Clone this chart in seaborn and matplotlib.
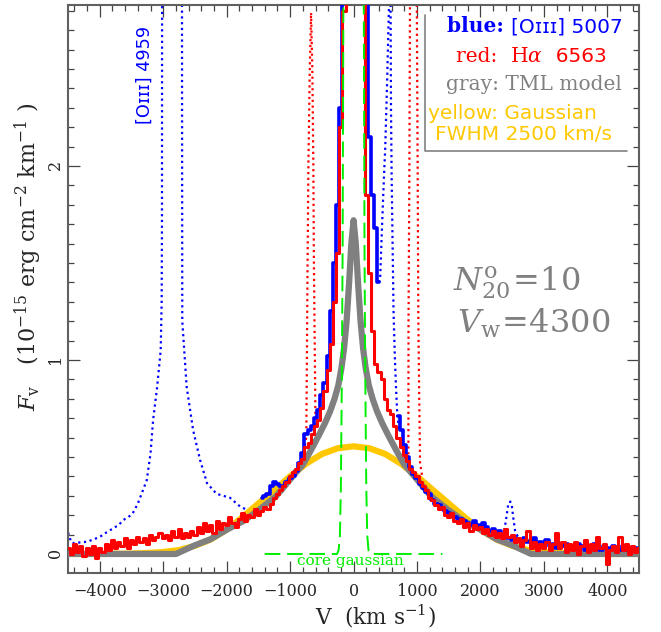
import numpy as np
import seaborn as sns
import matplotlib.pyplot as plt
from matplotlib.ticker import MultipleLocator

# H-alpha spectrum, 50 km/s bins from -4500 to 4500
red_v = np.arange(-4500, 4501, 50)
red_flux = [
    0.03, 0.00, 0.05, 0.01, 0.04, -0.01, 0.03, 0.00, 0.04, -0.02,
    0.03, 0.01, 0.05, 0.02, 0.07, 0.03, 0.06, 0.04, 0.08, 0.03,
    0.07, 0.05, 0.09, 0.06, 0.08, 0.05, 0.10, 0.07, 0.09, 0.11,
    0.08, 0.10, 0.07, 0.12, 0.09, 0.13, 0.08, 0.11, 0.09, 0.12,
    0.10, 0.14, 0.11, 0.16, 0.12, 0.15, 0.11, 0.17, 0.13, 0.16,
    0.15, 0.19, 0.16, 0.14, 0.18, 0.21, 0.17, 0.20, 0.19, 0.23,
    0.20, 0.22, 0.24, 0.23, 0.26, 0.29, 0.31, 0.33, 0.35, 0.37,
    0.40, 0.42, 0.44, 0.47, 0.49, 0.55, 0.57, 0.62, 0.66, 0.69,
    0.75, 0.84, 0.95, 1.08, 1.30, 1.55, 2.20, 2.80, 3.50, 4.00,
    4.20, 4.00, 3.60, 2.90, 1.85, 1.45, 1.15, 0.98, 0.94, 0.90,
    0.80, 0.74, 0.72, 0.66, 0.60, 0.55, 0.51, 0.48, 0.44, 0.42,
    0.40, 0.37, 0.35, 0.33, 0.29, 0.28, 0.25, 0.23, 0.24, 0.20,
    0.19, 0.21, 0.17, 0.16, 0.18, 0.14, 0.16, 0.12, 0.15, 0.13,
    0.14, 0.11, 0.13, 0.10, 0.12, 0.09, 0.11, 0.08, 0.13, 0.09,
    0.10, 0.06, 0.08, 0.04, 0.07, 0.12, 0.03, 0.06, 0.02, 0.05,
    0.03, 0.06, 0.02, 0.05, 0.11, 0.03, 0.06, 0.01, 0.05, 0.02,
    0.06, 0.00, 0.04, 0.07, 0.01, 0.05, 0.02, 0.09, 0.03, 0.05,
    -0.05, 0.02, 0.04, 0.01, 0.09, 0.02, 0.05, 0.00, 0.04, 0.01,
    0.03,
]

# [OIII] 5007 spectrum, two clean pieces
blue_v_core = np.arange(-1450, 401, 50)
blue_core = [
    0.29, 0.30, 0.31, 0.35, 0.37, 0.36, 0.35, 0.35, 0.37, 0.39,
    0.40, 0.43, 0.47, 0.52, 0.62, 0.64, 0.66, 0.70, 0.74, 0.82,
    0.88, 1.02, 1.25, 1.50, 1.80, 2.30, 3.20, 3.80, 4.20, 4.40,
    4.20, 3.80, 3.20, 2.90, 2.15, 1.85, 1.68, 1.40,
]
blue_v_wing = np.arange(700, 4501, 50)
blue_wing = [
    0.71, 0.64, 0.56, 0.50, 0.45, 0.41, 0.39, 0.36, 0.34, 0.32,
    0.31, 0.28, 0.26, 0.25, 0.23, 0.22, 0.21, 0.20, 0.19, 0.18,
    0.18, 0.17, 0.16, 0.15, 0.17, 0.15, 0.14, 0.16, 0.14, 0.12,
    0.13, 0.11, 0.12, 0.10, 0.09, 0.08, 0.07, 0.08, 0.07, 0.07,
    0.08, 0.06, 0.07, 0.08, 0.05, 0.06, 0.05, 0.07, 0.04, 0.05,
    0.03, 0.05, 0.04, 0.05, 0.03, 0.04, 0.03, 0.05, 0.04, 0.02,
    0.04, 0.03, 0.05, 0.03, 0.02, 0.04, 0.03, 0.02, 0.04, 0.03,
    0.02, 0.04, 0.02, 0.03, 0.02, 0.03, 0.02,
]

# raw [OIII] data (dotted): 4959 line, bump near +550, bump near +2450
o4959_v = [-4500, -4450, -4400, -4300, -4200, -4100, -4000, -3900, -3800, -3700,
           -3630, -3550, -3480, -3400, -3330, -3260, -3200, -3160, -3100, -3040,
           -3025, -3020, -3018, -2860, -2705, -2703, -2700, -2630, -2530, -2420,
           -2310, -2160, -1950, -1790, -1680, -1570, -1480, -1370]
o4959 = [0.11, 0.06, 0.055, 0.06, 0.063, 0.075, 0.088, 0.11, 0.13, 0.15,
         0.175, 0.19, 0.21, 0.26, 0.32, 0.38, 0.52, 0.69, 0.85, 1.05,
         1.30, 1.70, 3.00, 8.00, 3.00, 2.15, 1.20, 0.86, 0.64, 0.485,
         0.365, 0.31, 0.29, 0.245, 0.227, 0.23, 0.236, 0.295]
o_bump_v = [400, 418, 450, 480, 500, 530, 560, 575, 590, 600, 615, 630, 650, 670, 690, 720]
o_bump = [1.40, 1.41, 1.70, 1.95, 2.10, 2.45, 2.85, 3.50, 2.30, 1.95, 1.60, 1.25, 1.02, 0.85, 0.71, 0.64]
o_red_v = [2300, 2360, 2400, 2440, 2470, 2494, 2520, 2546, 2600]
o_red = [0.11, 0.09, 0.17, 0.26, 0.27, 0.25, 0.18, 0.12, 0.08]

# raw H-alpha data (dotted): [NII] 6548 and 6583
n6548_v = [-800, -745, -738, -725, -712, -690, -670, -650, -634, -625, -607, -600]
n6548 = [0.50, 0.60, 0.90, 1.50, 2.00, 2.50, 2.79, 2.50, 2.00, 1.50, 0.90, 0.66]
n6583_v = [800, 850, 864, 866, 880, 890, 943, 996, 1010, 1021, 1035, 1048, 1100]
n6583 = [0.50, 0.48, 0.52, 1.20, 2.00, 2.90, 8.00, 2.90, 2.00, 1.20, 0.80, 0.47, 0.36]

# TML model
tml_v = [-4500, -2800, -2500, -2260, -2000, -1735, -1500, -1230, -1100, -960, -800, -670, -550,
         -450, -370, -300, -240, -190, -150, -110, -70, -35, 0, 35, 70, 110, 150, 190, 240, 300, 370,
         450, 550, 670, 800, 960, 1100, 1230, 1500, 1735, 2000, 2260, 2500, 2800, 4500]
tml = [0.0, 0.0, 0.045, 0.075, 0.125, 0.17, 0.225, 0.295, 0.345, 0.40, 0.46, 0.536, 0.61,
       0.675, 0.735, 0.80, 0.87, 0.96, 1.06, 1.20, 1.40, 1.60, 1.72, 1.60, 1.40, 1.20, 1.06, 0.96,
       0.87, 0.80, 0.735, 0.675, 0.61, 0.536, 0.46, 0.40, 0.345, 0.295, 0.225, 0.17, 0.125, 0.075,
       0.045, 0.0, 0.0]

# Gaussian, FWHM 2500 km/s
gauss_v = np.arange(-4500, 4501, 250)
gauss = [0.0, 0.0, 0.0, 0.001, 0.002, 0.005, 0.01, 0.02, 0.042, 0.075, 0.125, 0.19,
         0.26, 0.33, 0.40, 0.465, 0.515, 0.545, 0.555, 0.545, 0.515, 0.465, 0.40, 0.33,
         0.26, 0.19, 0.125, 0.075, 0.042, 0.02, 0.01, 0.005, 0.002, 0.001, 0.0, 0.0, 0.0]

# core gaussian (green dashed)
core_v = [-1400, -260, -235, -215, -200, -185, -172, -165, -150, 0, 150, 165, 172, 185, 200, 215, 235, 260, 1400]
core = [0, 0, 0.02, 0.1, 0.35, 0.9, 1.6, 2.4, 4, 30, 4, 2.4, 1.6, 0.9, 0.35, 0.1, 0.02, 0, 0]

sns.set_style("ticks")
plt.rcParams['font.family'] = ['DejaVu Serif']
plt.rcParams['mathtext.fontset'] = 'dejavuserif'

fig = plt.figure(figsize=(6.61, 6.32), dpi=100)
ax = fig.add_axes([0.103, 0.0934, 0.8638, 0.8987])

BLUE = '#0000ff'
RED = '#ff0000'
GRAY = '#808080'
GOLD = '#ffc800'
GREEN = '#00ee00'
dots = (0, (1, 1.6))

common = dict(ax=ax, estimator=None, sort=False)
for xv, yv in [(o4959_v, o4959), (o_bump_v, o_bump), (o_red_v, o_red)]:
    sns.lineplot(x=xv, y=yv, color=BLUE, lw=1.6, linestyle=dots, zorder=1, **common)
for xv, yv in [(n6548_v, n6548), (n6583_v, n6583)]:
    sns.lineplot(x=xv, y=yv, color=RED, lw=1.6, linestyle=dots, zorder=1, **common)

sns.lineplot(x=gauss_v, y=gauss, color=GOLD, lw=4.5, zorder=2, **common)
sns.lineplot(x=tml_v, y=tml, color=GRAY, lw=4.5, zorder=3, **common)
sns.lineplot(x=blue_v_core, y=blue_core, color=BLUE, lw=2.6, drawstyle='steps-mid', zorder=4, **common)
sns.lineplot(x=blue_v_wing, y=blue_wing, color=BLUE, lw=2.6, drawstyle='steps-mid', zorder=4, **common)
sns.lineplot(x=red_v, y=red_flux, color=RED, lw=2.2, drawstyle='steps-mid', zorder=5, **common)
sns.lineplot(x=core_v, y=core, color=GREEN, lw=1.4, dashes=False, zorder=6, **common)
ax.lines[-1].set_dashes((8, 3.5))

ax.set_xlim(-4500, 4500)
ax.set_ylim(-0.098, 2.83)
ax.set(xlabel=None, ylabel=None)
ax.xaxis.set_major_locator(MultipleLocator(1000))
ax.xaxis.set_minor_locator(MultipleLocator(200))
ax.yaxis.set_major_locator(MultipleLocator(1))
ax.yaxis.set_minor_locator(MultipleLocator(0.1))
ax.tick_params(which='both', direction='in', top=True, right=True, color='#444444', width=0.9)
ax.tick_params(which='major', length=8.6)
ax.tick_params(which='minor', length=4.3)
ax.tick_params(axis='x', labelsize=11.5, pad=7.5)
ax.tick_params(axis='y', labelsize=11.5, pad=3, labelrotation=90)
for s in ax.spines.values():
    s.set_color('#606060')
    s.set_linewidth(1.5)

fig.text(28 / 661, 1 - 257 / 632,
         r"$F_{\rm v}$   (10$^{-15}$ erg cm$^{-2}$ km$^{-1}$ )",
         rotation=90, ha='center', va='center', fontsize=16)
fig.text(375 / 661, 1 - 625 / 632, r"V  (km s$^{-1}$)", ha='center', va='baseline', fontsize=15.5)

# legend box
ax.plot([0.625, 0.625, 0.979], [0.982, 0.743, 0.743], transform=ax.transAxes,
        color=GRAY, lw=1.2, zorder=7)


def chain(parts, x, y):
    t = ax.text(x, y, parts[0][0], transform=ax.transAxes, va='baseline', zorder=8, **parts[0][1])
    for s, kw in parts[1:]:
        t = ax.annotate(s, xy=(1, 0), xycoords=t, va='bottom', ha='left', zorder=8, **kw)


serif = dict(family='DejaVu Serif', fontsize=14.5)
sans = dict(family='DejaVu Sans', fontsize=14.5)
chain([("blue: ", dict(color=BLUE, fontweight='bold', **serif)),
       ("[Oɪɪɪ] 5007", dict(color=BLUE, **sans))], 0.664, 0.952)
chain([("red:  ", dict(color=RED, **serif)),
       (r"H$\alpha$", dict(color=RED, **serif)),
       ("  6563", dict(color=RED, **sans))], 0.680, 0.900)
ax.text(0.662, 0.850, "gray: TML model", transform=ax.transAxes, va='baseline',
        color=GRAY, zorder=8, **serif)
ax.text(0.630, 0.800, "yellow: Gaussian", transform=ax.transAxes, va='baseline',
        color=GOLD, zorder=8, **sans)
ax.text(0.643, 0.762, "FWHM 2500 km/s", transform=ax.transAxes, va='baseline',
        color=GOLD, zorder=8, **sans)

ax.text(0.674, 0.498, r"$N^{\rm o}_{20}\!=\!10$", transform=ax.transAxes, va='baseline',
        color=GRAY, fontsize=23)
ax.text(0.681, 0.4225, r"$V_{\rm w}\!=\!4300$", transform=ax.transAxes, va='baseline',
        color=GRAY, fontsize=23)

ax.text(-3287, 2.47, "[Oɪɪɪ] 4959", rotation=90, ha='center', va='center',
        color=BLUE, family='DejaVu Sans', fontsize=12.8)
ax.text(-55, -0.056, "core gaussian", ha='center', va='baseline', color=GREEN,
        family='DejaVu Serif', fontsize=11)

fig.savefig('out.png', dpi=100)
